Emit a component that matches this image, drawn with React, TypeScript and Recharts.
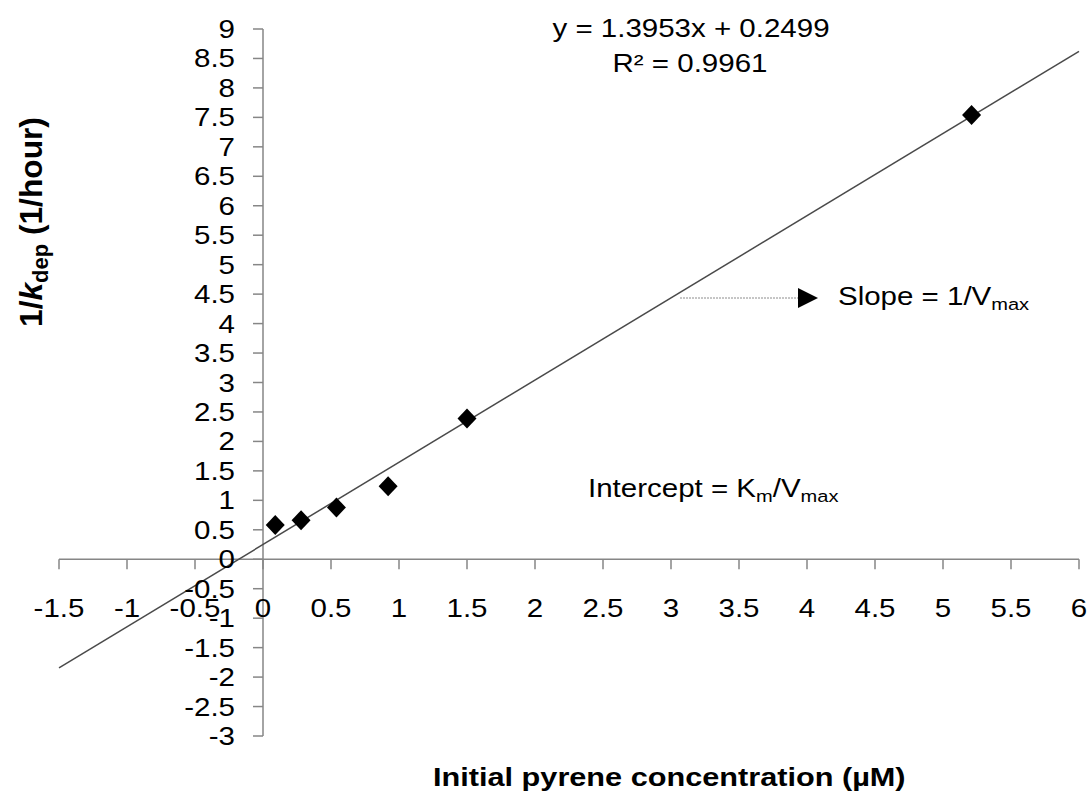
import React from 'react'
import { ScatterChart, Scatter, XAxis, YAxis, ReferenceLine, ReferenceDot } from 'recharts'

// values
const concentration = [0.09, 0.28, 0.54, 0.92, 1.5, 5.21]
const invKdep = [0.58, 0.66, 0.88, 1.24, 2.39, 7.54]

const trendX = [-1.5, 6]
const trendY = [-1.843, 8.622]

const xTicks = [-1.5, -1, -0.5, 0, 0.5, 1, 1.5, 2, 2.5, 3, 3.5, 4, 4.5, 5, 5.5, 6]
const yTicks = [-3, -2.5, -2, -1.5, -1, -0.5, 0, 0.5, 1, 1.5, 2, 2.5, 3, 3.5, 4, 4.5, 5, 5.5, 6, 6.5, 7, 7.5, 8, 8.5, 9]

const W = 1091
const H = 796
const FONT = '"Liberation Sans", Arial, sans-serif'
const AXIS = '#868686'
const SX = 1.18

const data = concentration.map((x, i) => ({ x, y: invKdep[i] }))

function Txt({
  x,
  y,
  anchor = 'start',
  size = 25,
  bold = false,
  children,
}: {
  x: number
  y: number
  anchor?: 'start' | 'middle' | 'end'
  size?: number
  bold?: boolean
  children: React.ReactNode
}) {
  return (
    <text
      transform={`translate(${x},${y}) scale(${SX},1)`}
      textAnchor={anchor}
      fontFamily={FONT}
      fontSize={size}
      fontWeight={bold ? 'bold' : 'normal'}
      fill="#000"
    >
      {children}
    </text>
  )
}

function Diamond(props: any) {
  const { cx, cy } = props
  if (cx == null || cy == null) return null
  return <polygon points={`${cx},${cy - 10} ${cx + 9.5},${cy} ${cx},${cy + 10} ${cx - 9.5},${cy}`} fill="#000" />
}

export default function App() {
  return (
    <div style={{ position: 'absolute', left: 0, top: 0, width: W, height: H, background: '#fff' }}>
      <ScatterChart width={W} height={H} margin={{ top: 29, right: 12, bottom: 60, left: 59 }}>
        <XAxis type="number" dataKey="x" domain={[-1.5, 6]} ticks={xTicks} hide allowDataOverflow />
        <YAxis type="number" dataKey="y" domain={[-3, 9]} ticks={yTicks} hide allowDataOverflow />

        <ReferenceLine y={0} stroke={AXIS} strokeWidth={1.5} />
        <ReferenceLine x={0} stroke={AXIS} strokeWidth={1.5} />

        {xTicks.map(t => (
          <ReferenceDot
            key={'x' + t}
            x={t}
            y={0}
            ifOverflow="visible"
            shape={(p: any) => (
              <g>
                <line x1={p.cx} y1={p.cy} x2={p.cx} y2={p.cy + 10} stroke={AXIS} strokeWidth={1.5} />
                <Txt x={p.cx} y={p.cy + 58} anchor="middle">{String(t)}</Txt>
              </g>
            )}
          />
        ))}
        {yTicks.map(t => (
          <ReferenceDot
            key={'y' + t}
            x={0}
            y={t}
            ifOverflow="visible"
            shape={(p: any) => (
              <g>
                <line x1={p.cx - 10} y1={p.cy} x2={p.cx} y2={p.cy} stroke={AXIS} strokeWidth={1.5} />
                <Txt x={p.cx - 28} y={p.cy + 9} anchor="end">{String(t)}</Txt>
              </g>
            )}
          />
        ))}

        <ReferenceLine
          segment={[
            { x: trendX[0], y: trendY[0] },
            { x: trendX[1], y: trendY[1] },
          ]}
          stroke="#4a4a4a"
          strokeWidth={1.5}
          ifOverflow="visible"
        />

        <Scatter data={data} shape={<Diamond />} isAnimationActive={false} />
      </ScatterChart>

      <svg width={W} height={H} style={{ position: 'absolute', left: 0, top: 0, pointerEvents: 'none' }}>
        <Txt x={691} y={37} anchor="middle">y = 1.3953x + 0.2499</Txt>
        <Txt x={690} y={72} anchor="middle">R² = 0.9961</Txt>

        <line x1={680} y1={298} x2={798} y2={298} stroke="#8c8c8c" strokeWidth={1} strokeDasharray="2 1" />
        <polygon points="798,288 818,298 798,308" fill="#000" />
        <Txt x={838} y={305}>
          Slope = 1/V<tspan fontSize={17} dy={5}>max</tspan>
        </Txt>

        <Txt x={588} y={497}>
          Intercept = K<tspan fontSize={17} dy={5}>m</tspan>
          <tspan dy={-5}>/V</tspan>
          <tspan fontSize={17} dy={5}>max</tspan>
        </Txt>

        <Txt x={433} y={786} size={26} bold>Initial pyrene concentration (µM)</Txt>

        <text
          transform="translate(42,327) rotate(-90) scale(1.22,1.18)"
          fontFamily={FONT}
          fontSize={26}
          fontWeight="bold"
          fill="#000"
        >
          1/<tspan fontStyle="italic">k</tspan>
          <tspan fontSize={18} dy={5}>dep</tspan>
          <tspan dy={-5}> (1/hour)</tspan>
        </text>
      </svg>
    </div>
  )
}
